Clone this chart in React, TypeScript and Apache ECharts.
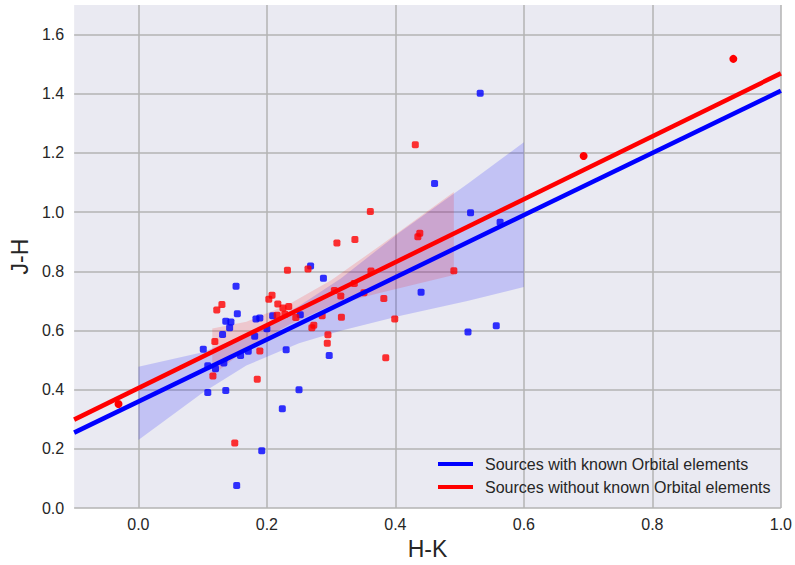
import React, { useEffect, useRef } from "react";
import * as echarts from "echarts";

const xTicks = [0.0, 0.2, 0.4, 0.6, 0.8, 1.0];
const yTicks = [0.0, 0.2, 0.4, 0.6, 0.8, 1.0, 1.2, 1.4, 1.6];

const blueName = "Sources with known Orbital elements";
const redName = "Sources without known Orbital elements";

const bluePoints: number[][] = [
  [0.532, 1.402], [0.461, 1.097], [0.517, 0.998], [0.563, 0.966], [0.44, 0.729],
  [0.513, 0.595], [0.557, 0.616], [0.268, 0.818], [0.288, 0.777], [0.152, 0.75],
  [0.154, 0.657], [0.136, 0.631], [0.144, 0.629], [0.142, 0.609], [0.131, 0.587],
  [0.101, 0.537], [0.108, 0.481], [0.12, 0.471], [0.133, 0.49], [0.108, 0.391],
  [0.136, 0.397], [0.159, 0.516], [0.171, 0.53], [0.181, 0.581], [0.183, 0.639],
  [0.189, 0.642], [0.2, 0.606], [0.209, 0.65], [0.23, 0.535], [0.252, 0.653],
  [0.297, 0.516], [0.25, 0.4], [0.224, 0.336], [0.192, 0.194], [0.153, 0.076],
];

const redPoints: number[][] = [
  [0.431, 1.228], [0.361, 1.002], [0.309, 0.896], [0.337, 0.908], [0.438, 0.929],
  [0.435, 0.917], [0.232, 0.804], [0.264, 0.808], [0.362, 0.801], [0.491, 0.802],
  [0.305, 0.735], [0.315, 0.717], [0.336, 0.759], [0.351, 0.728], [0.382, 0.708],
  [0.208, 0.719], [0.203, 0.706], [0.217, 0.69], [0.234, 0.681], [0.225, 0.676],
  [0.13, 0.688], [0.122, 0.669], [0.119, 0.563], [0.116, 0.446], [0.185, 0.435],
  [0.15, 0.22], [0.189, 0.531], [0.228, 0.655], [0.216, 0.652], [0.245, 0.644],
  [0.286, 0.65], [0.316, 0.645], [0.399, 0.639], [0.273, 0.618], [0.27, 0.609],
  [0.295, 0.586], [0.294, 0.557], [0.385, 0.508],
];

const redCirclePoints: number[][] = [
  [-0.031, 0.352], [0.693, 1.19], [0.926, 1.518],
];

const blueFit: number[][] = [[-0.1, 0.255], [1.0, 1.41]];
const redFit: number[][] = [[-0.1, 0.299], [1.0, 1.469]];

// [x, lower, upper]
const blueBand: number[][] = [
  [0.0, 0.23, 0.478], [0.1, 0.39, 0.527], [0.168, 0.482, 0.586], [0.25, 0.557, 0.683],
  [0.315, 0.599, 0.776], [0.408, 0.65, 0.934], [0.512, 0.7, 1.095], [0.6, 0.747, 1.236],
];
const redBand: number[][] = [
  [0.115, 0.448, 0.607], [0.168, 0.538, 0.63], [0.235, 0.62, 0.69], [0.3, 0.685, 0.77],
  [0.377, 0.728, 0.888], [0.491, 0.788, 1.068],
];

const FONT = "Liberation Sans, Arial, sans-serif";
const TEXT = "#262626";

function bandSeries(band: number[][], fill: string) {
  return {
    type: "custom",
    data: band,
    silent: true,
    encode: { x: 0, y: 1 },
    renderItem: (params: any, api: any) => {
      if (params.dataIndex !== 0) return null;
      const upper = band.map((r) => api.coord([r[0], r[2]]));
      const lower = band.slice().reverse().map((r) => api.coord([r[0], r[1]]));
      return {
        type: "polygon",
        shape: { points: upper.concat(lower) },
        style: { fill },
      };
    },
  };
}

export default function App() {
  const ref = useRef<HTMLDivElement>(null);
  useEffect(() => {
    if (!ref.current) return;
    const chart = echarts.init(ref.current, undefined, { renderer: "svg" });
    chart.setOption({
      animation: false,
      backgroundColor: "#ffffff",
      textStyle: { fontFamily: FONT },
      grid: {
        left: 72, right: 13, top: 5, bottom: 55,
        show: true, backgroundColor: "#EAEAF2", borderWidth: 0,
      },
      legend: {
        orient: "vertical",
        left: 433,
        top: 451,
        itemWidth: 35,
        itemHeight: 4,
        itemGap: 7,
        icon: "rect",
        data: [blueName, redName],
        textStyle: { fontSize: 16, color: TEXT, fontFamily: FONT, padding: [0, 0, 0, 7] },
      },
      xAxis: {
        type: "value",
        min: -0.1,
        max: 1.0,
        name: "H-K",
        nameLocation: "middle",
        nameGap: 28,
        nameTextStyle: { fontSize: 23, color: TEXT, fontFamily: FONT },
        axisLine: { show: false },
        axisTick: { show: false, customValues: xTicks },
        axisLabel: {
          customValues: xTicks,
          fontSize: 16, color: TEXT, margin: 8, fontFamily: FONT,
          formatter: (v: number) => v.toFixed(1),
        },
        splitLine: { show: true, lineStyle: { color: "#b3b3b3", width: 1.5 } },
      },
      yAxis: {
        type: "value",
        min: 0,
        max: 1.7,
        name: "J-H",
        nameLocation: "middle",
        nameGap: 37,
        nameTextStyle: { fontSize: 23, color: TEXT, fontFamily: FONT },
        axisLine: { show: false },
        axisTick: { show: false, customValues: yTicks },
        axisLabel: {
          customValues: yTicks,
          fontSize: 16, color: TEXT, margin: 10, fontFamily: FONT,
          formatter: (v: number) => v.toFixed(1),
        },
        splitLine: { show: true, lineStyle: { color: "#b3b3b3", width: 1.5 } },
      },
      series: [
        {
          type: "scatter",
          data: bluePoints,
          symbol: "roundRect",
          symbolSize: 7,
          itemStyle: { color: "#0000ff", opacity: 0.8 },
          silent: true,
        },
        bandSeries(blueBand, "rgba(0,0,255,0.17)"),
        {
          name: blueName,
          type: "line",
          data: blueFit,
          symbol: "none",
          itemStyle: { color: "#0000ff" },
          lineStyle: { color: "#0000ff", width: 4.5 },
        },
        {
          type: "scatter",
          data: redPoints,
          symbol: "roundRect",
          symbolSize: 7,
          itemStyle: { color: "#ff0000", opacity: 0.8 },
          silent: true,
        },
        {
          type: "scatter",
          data: redCirclePoints,
          symbol: "circle",
          symbolSize: 8,
          itemStyle: { color: "#ff0000", opacity: 1 },
          silent: true,
        },
        bandSeries(redBand, "rgba(255,0,0,0.15)"),
        {
          name: redName,
          type: "line",
          data: redFit,
          symbol: "none",
          itemStyle: { color: "#ff0000" },
          lineStyle: { color: "#ff0000", width: 4.5 },
        },
      ],
    });
    return () => chart.dispose();
  }, []);
  return (
    <div
      ref={ref}
      style={{ position: "fixed", left: 0, top: 0, width: 795, height: 565 }}
    />
  );
}
